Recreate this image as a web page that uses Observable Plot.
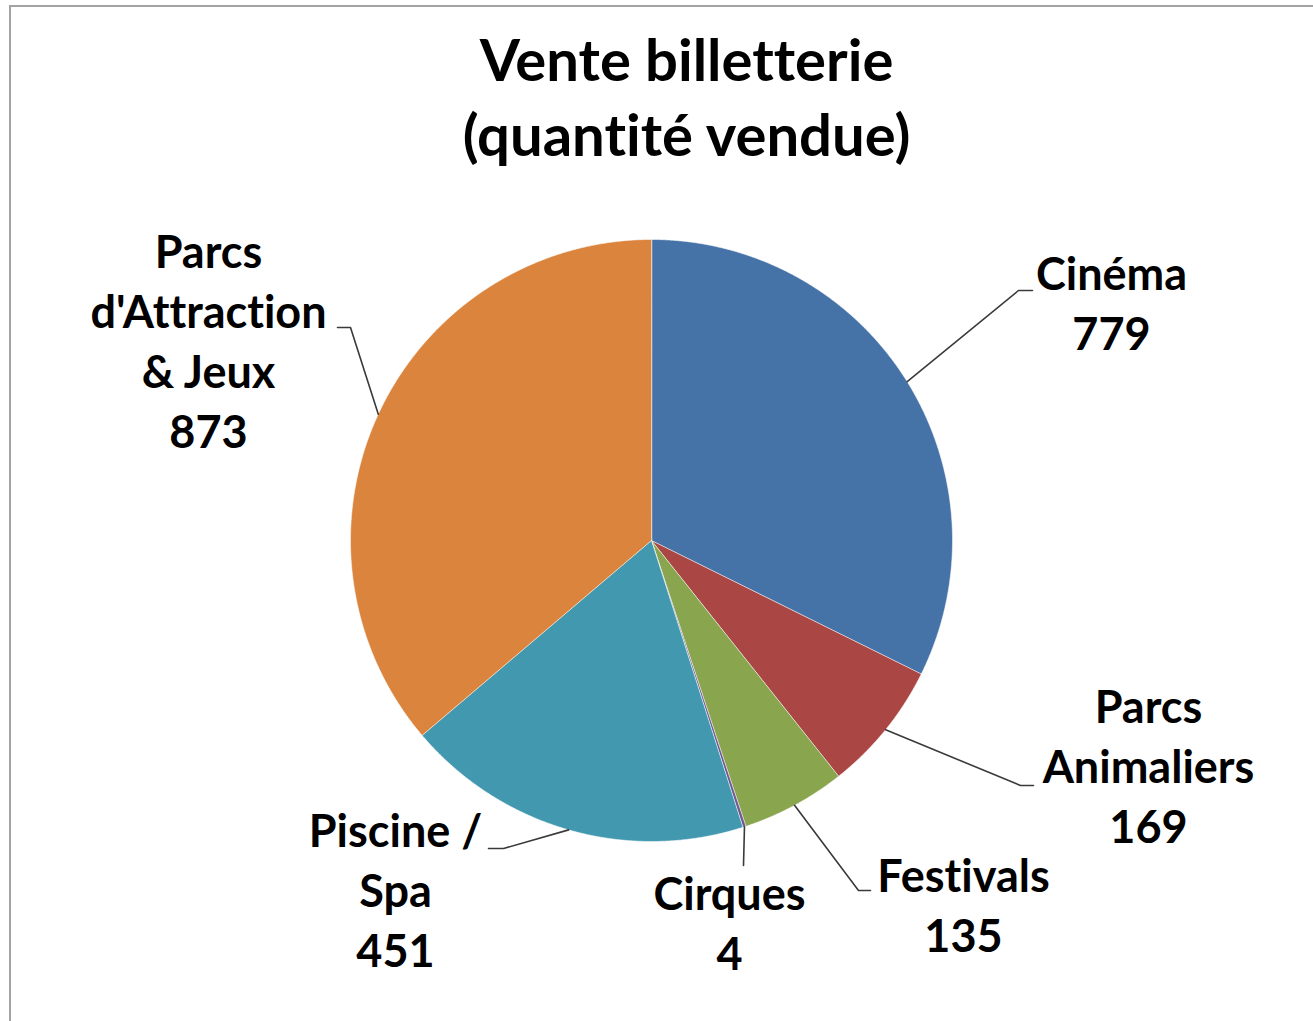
<!DOCTYPE html>
<html>
<head>
<meta charset="utf-8">
<script src="https://cdn.jsdelivr.net/npm/d3@7"></script>
<script src="https://cdn.jsdelivr.net/npm/@observablehq/plot@0.6"></script>
<style>
  html, body { margin: 0; padding: 0; background: #fff; overflow: hidden; width: 1313px; height: 1021px; }
  #frame { position: absolute; left: 9px; top: 5px; width: 1400px; height: 1100px; border: 2px solid #a3a3a3; box-sizing: border-box; }
  #wrap { position: absolute; left: 0; top: 0; width: 1313px; }
  #title { box-sizing: border-box; height: 190px; width: 1313px; padding-left: 60px; padding-top: 21px; text-align: center;
           font-family: Lato, "Open Sans", sans-serif; font-weight: 700; font-size: 58px; line-height: 75px; color: #000;
           font-variant-ligatures: none; font-feature-settings: "liga" 0, "clig" 0; }
  svg { display: block; }
  svg text { font-variant-ligatures: none; font-feature-settings: "liga" 0, "clig" 0; }
</style>
</head>
<body>
<div id="frame"></div>
<div id="wrap">
  <div id="title">Vente billetterie<br>(quantité vendue)</div>
  <div id="chart"></div>
</div>
<script>
// ---- data ----
const categories = ["Cinéma", "Parcs Animaliers", "Festivals", "Cirques", "Piscine / Spa", "Parcs d'Attraction & Jeux"];
const values = [779, 169, 135, 4, 451, 873];
const labelTexts = ["Cinéma", "Parcs\nAnimaliers", "Festivals", "Cirques", "Piscine /\nSpa", "Parcs\nd'Attraction\n& Jeux"];
const colors = ["#4572A7", "#AA4643", "#89A54E", "#71588F", "#4198AF", "#DB843D"];

// ---- layout (page pixels) ----
const TOP = 190;                 // height of the title block above the svg
const W = 1313, H = 1021 - TOP;
const cx = 651, cy = 540 - TOP, R = 301;
const labelLayout = [
  {x: 1111, y: 300, endX: 1032, endY: 290, stub: -14},
  {x: 1148, y: 763, endX: 1033, endY: 785, stub: -13},
  {x: 963,  y: 902, endX: 870,  endY: 890, stub: -12},
  {x: 729,  y: 920, endX: 743,  endY: 865, stub: 0},
  {x: 395,  y: 887, endX: 488,  endY: 848, stub: 15},
  {x: 208,  y: 338, endX: 337,  endY: 327, stub: 13}
];

const table = categories.map((c, i) => ({category: c, value: values[i], label: labelTexts[i] + "\n" + values[i]}));
const arcs = d3.pie().sort(null).value(d => d.value)(table);

const pt = (a, r) => [cx + r * Math.sin(a), cy - r * Math.cos(a)];

// slice polygons
const slicePts = [];
arcs.forEach(a => {
  slicePts.push({category: a.data.category, x: cx, y: cy});
  const n = Math.max(2, Math.ceil((a.endAngle - a.startAngle) / (Math.PI / 720)));
  for (let k = 0; k <= n; k++) {
    const ang = a.startAngle + (a.endAngle - a.startAngle) * k / n;
    const [x, y] = pt(ang, R);
    slicePts.push({category: a.data.category, x, y});
  }
});

// leader lines
const leaderPts = [];
arcs.forEach((a, i) => {
  const L = labelLayout[i];
  const mid = (a.startAngle + a.endAngle) / 2;
  const [sx, sy] = pt(mid, R);
  leaderPts.push({category: a.data.category, x: sx, y: sy});
  leaderPts.push({category: a.data.category, x: L.endX + L.stub, y: L.endY - TOP});
  leaderPts.push({category: a.data.category, x: L.endX, y: L.endY - TOP});
});

const labels = arcs.map((a, i) => ({label: a.data.label, x: labelLayout[i].x, y: labelLayout[i].y - TOP}));

const chart = Plot.plot({
  width: W, height: H, margin: 0,
  x: {domain: [0, W], range: [0, W], axis: null},
  y: {domain: [0, H], range: [0, H], axis: null},
  color: {domain: categories, range: colors},
  style: {background: "transparent", fontFamily: "Lato, 'Open Sans', sans-serif"},
  marks: [
    Plot.line(slicePts, {x: "x", y: "y", z: "category", fill: "category", stroke: "#ffffff", strokeOpacity: 0.55, strokeWidth: 1, curve: "linear-closed"}),
    Plot.line(leaderPts, {x: "x", y: "y", z: "category", stroke: "#3a3a3a", strokeWidth: 1.6}),
    Plot.text(labels, {x: "x", y: "y", text: "label", fontSize: 45, fontWeight: 700, lineHeight: 1.333, lineAnchor: "middle", textAnchor: "middle", fill: "#000"})
  ]
});
document.getElementById("chart").appendChild(chart);
</script>
</body>
</html>
